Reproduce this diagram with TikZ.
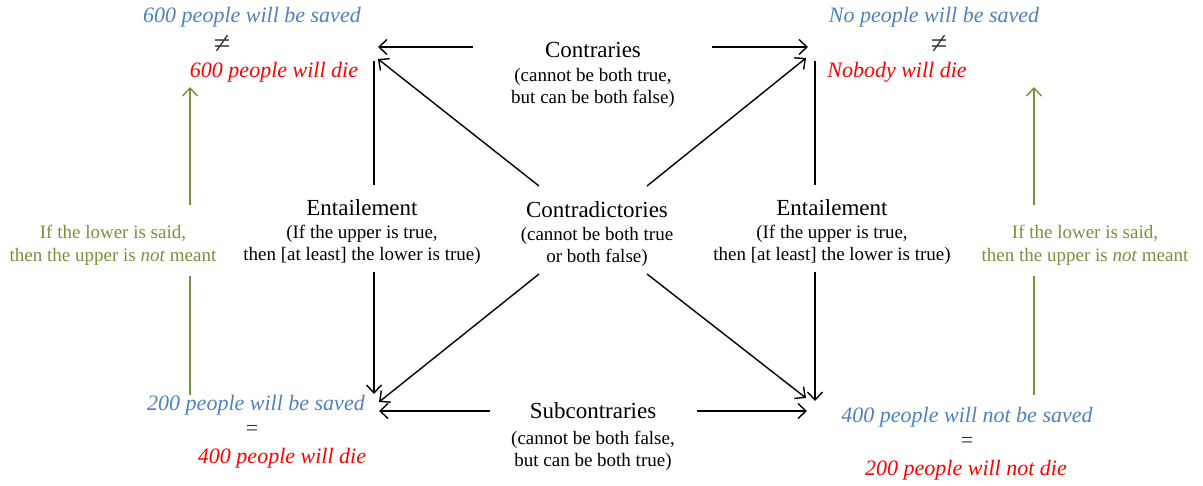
\documentclass[tikz,border=0pt]{standalone}
\usepackage{fontspec}
\setmainfont{Liberation Serif}
\usetikzlibrary{arrows.meta}
\definecolor{cblue}{RGB}{79,129,189}
\definecolor{cred}{RGB}{255,0,0}
\definecolor{cgreen}{RGB}{118,146,60}
\begin{document}
\begin{tikzpicture}[x=1pt,y=-1pt,
  head/.style={font=\fontsize{23}{26}\selectfont, inner sep=0pt},
  sub/.style={font=\fontsize{19}{22}\selectfont, align=center, inner sep=0pt},
  prop/.style={font=\fontsize{22}{26}\selectfont\itshape, inner sep=0pt},
  rel/.style={font=\fontsize{22}{24}\selectfont, text=black!80, inner sep=0pt},
  nrel/.style={font=\fontsize{30}{32}\selectfont, text=black!80, inner sep=0pt},
  note/.style={font=\fontsize{19}{23}\selectfont, align=center, text=cgreen, inner sep=0pt},
  arr/.style={line width=1.4pt, -{Straight Barb[length=8pt,width=15pt,line width=1.4pt]}},
  plain/.style={line width=1.4pt},
  garr/.style={line width=1.4pt, draw=cgreen, -{Straight Barb[length=8pt,width=15pt,line width=1.4pt]}}]
\useasboundingbox (0,0) rectangle (1203,485);
% propositions
\node[prop, text=cblue] (A1) at (252,17) {600 people will be saved};
\node[nrel] (A2) at (222,45) {≠};
\node[prop, text=cred] (A3) at (274,72) {600 people will die};
\node[prop, text=cblue] (E1) at (934,17) {No people will be saved};
\node[nrel] (E2) at (939,45) {≠};
\node[prop, text=cred] (E3) at (897,72) {Nobody will die};
\node[prop, text=cblue] (I1) at (256,405) {200 people will be saved};
\node[rel] (I2) at (252,430) {=};
\node[prop, text=cred] (I3) at (282,458) {400 people will die};
\node[prop, text=cblue] (O1) at (967,417) {400 people will not be saved};
\node[rel] (O2) at (967,442) {=};
\node[prop, text=cred] (O3) at (966,470) {200 people will not die};
% relation labels
\node[head] (ctr) at (593,50) {Contraries};
\node[sub] (ctrs) at (593,88) {(cannot be both true,\\but can be both false)};
\node[head] (cd) at (597,210) {Contradictories};
\node[sub] (cds) at (597,247) {(cannot be both true\\or both false)};
\node[head] (enl) at (362,208) {Entailement};
\node[sub] (enls) at (362,245) {(If the upper is true,\\then [at least] the lower is true)};
\node[head] (enr) at (832,208) {Entailement};
\node[sub] (enrs) at (832,245) {(If the upper is true,\\then [at least] the lower is true)};
\node[head] (sc) at (593,411) {Subcontraries};
\node[sub] (scs) at (593,451) {(cannot be both false,\\but can be both true)};
\node[note] (gl) at (113,245) {If the lower is said,\\then the upper is \textit{not} meant};
\node[note] (gr) at (1085,245) {If the lower is said,\\then the upper is \textit{not} meant};
% coordinates
\coordinate (ctrL) at (473,47);
\coordinate (ctrR) at (712,47);
\coordinate (tlH) at (378,47);
\coordinate (trH) at (808,47);
\coordinate (scL) at (490,411);
\coordinate (scR) at (697,411);
\coordinate (blH) at (379,411);
\coordinate (brH) at (807,411);
\coordinate (lvT) at (374,61);
\coordinate (lvM1) at (374,185);
\coordinate (lvM2) at (374,272);
\coordinate (lvB) at (374,394);
\coordinate (rvT) at (815,61);
\coordinate (rvM1) at (815,185);
\coordinate (rvM2) at (815,272);
\coordinate (rvB) at (815,401);
\coordinate (dTL) at (539,186);
\coordinate (dTR) at (647,186);
\coordinate (dBL) at (539,274);
\coordinate (dBR) at (647,274);
\coordinate (dTLh) at (378,59);
\coordinate (dTRh) at (806,58);
\coordinate (dBLh) at (379,402);
\coordinate (dBRh) at (806,398);
\coordinate (glT) at (190,87);
\coordinate (glM1) at (190,205);
\coordinate (glM2) at (190,276);
\coordinate (glB) at (190,395);
\coordinate (grT) at (1034,87);
\coordinate (grM1) at (1034,205);
\coordinate (grM2) at (1034,276);
\coordinate (grB) at (1034,395);
% arrows
\draw[arr] (ctrL) -- (tlH);
\draw[arr] (ctrR) -- (trH);
\draw[arr] (scL) -- (blH);
\draw[arr] (scR) -- (brH);
\draw[plain] (lvT) -- (lvM1);
\draw[arr] (lvM2) -- (lvB);
\draw[plain] (rvT) -- (rvM1);
\draw[arr] (rvM2) -- (rvB);
\draw[arr] (dTL) -- (dTLh);
\draw[arr] (dTR) -- (dTRh);
\draw[arr] (dBL) -- (dBLh);
\draw[arr] (dBR) -- (dBRh);
\draw[garr] (glM1) -- (glT);
\draw[line width=1.4pt, draw=cgreen] (glB) -- (glM2);
\draw[garr] (grM1) -- (grT);
\draw[line width=1.4pt, draw=cgreen] (grB) -- (grM2);
\end{tikzpicture}
\end{document}
